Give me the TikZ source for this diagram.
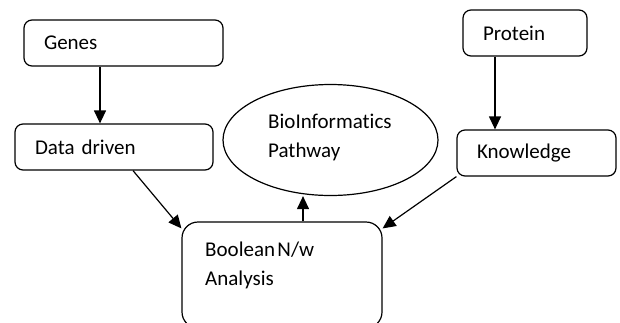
\documentclass[tikz,border=0pt]{standalone}
\usepackage{fontspec}
\setmainfont{Carlito}[Ligatures=NoCommon, WordSpace=0.5]
\usepackage{xcolor}
\usepackage{tikz}
\usetikzlibrary{calc,shapes.geometric,arrows.meta}
\definecolor{ink}{HTML}{000000}
\tikzset{
  box/.style={draw=ink, rounded corners=8pt, line width=1.2pt, minimum height=46pt,
    inner xsep=20pt, inner ysep=0pt, align=left},
  bigbox/.style={draw=ink, rounded corners=16pt, line width=1.2pt,
    minimum width=200pt, minimum height=106pt, inner sep=0pt},
  oval/.style={draw=ink, ellipse, line width=1.2pt, minimum width=215pt,
    minimum height=111pt, inner sep=0pt},
  txt/.style={align=left, inner sep=0pt},
  arr/.style={draw=ink, line width=1.2pt, -{Triangle[length=13pt,width=12pt]}},
  every node/.style={text=ink, font=\fontsize{21}{29}\selectfont}
}
\begin{document}
\begin{tikzpicture}[x=1pt,y=-1pt]
  \clip (0,0) rectangle (620,322);
  % boxes
  \node[box, text width=159pt] (genes) at (123.5,43) {Genes};
  \node[box, text width=158pt] (data) at (114,147) {Data driven};
  \node[box, text width=84pt] (protein) at (525,33) {Protein};
  \node[box, text width=119pt] (know) at (536.5,153) {Knowledge};
  \node[oval] (path) at (330.5,140) {};
  \node[txt, anchor=west] (pathtxt) at (268,137) {BioInformatics\\Pathway};
  \node[bigbox] (bool) at (282,275) {};
  \node[txt, anchor=west] (booltxt) at (205,265) {Boolean N/w\\Analysis};
  % arrows
  \draw[arr] (genes.south -| 100,0) -- (data.north -| 100,0);
  \draw[arr] (protein.south -| 495,0) -- (know.north -| 495,0);
  \draw[arr] (data.south -| 133,0) -- ([yshift=-7pt]bool.north west);
  \draw[arr] (know.south west) -- ([yshift=-7pt]bool.north east);
  \draw[arr] (bool.north -| 303,0) -- (path.south -| 303,0);
\end{tikzpicture}
\end{document}
